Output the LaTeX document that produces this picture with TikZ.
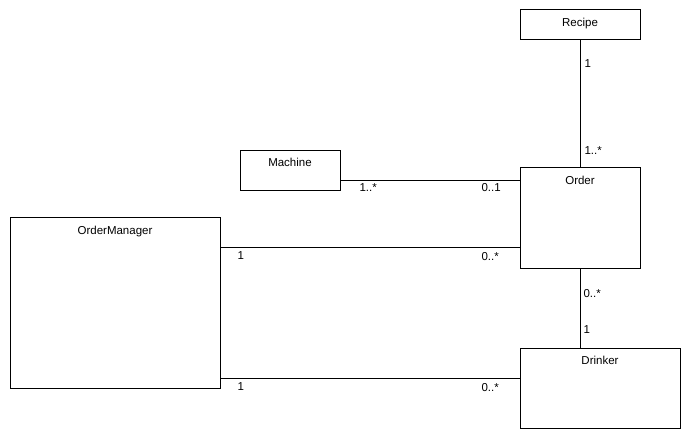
\documentclass[tikz,border=0pt]{standalone}
\usepackage{fontspec}
\setmainfont{Liberation Sans}
\usetikzlibrary{calc}

\begin{document}
\begin{tikzpicture}[x=1pt,y=-1pt,line width=1pt,font=\fontsize{11.5}{13}\selectfont,
  classbox/.style={draw=black,rectangle,inner sep=0pt},
  title/.style={anchor=base,inner sep=0pt,yshift=-17pt},
  mult/.style={anchor=base west,inner sep=0pt}]
\useasboundingbox (0,0) rectangle (690,438);
%% classes
\node[classbox,minimum width=120pt,minimum height=30pt,label={[title]north:Recipe}] (recipe) at (580,25) {};
\node[classbox,minimum width=100pt,minimum height=40pt,label={[title,yshift=1pt]north:Machine}] (machine) at (290,171) {};
\node[classbox,minimum width=120pt,minimum height=100pt,label={[title]north:Order}] (order) at (580,218) {};
\node[classbox,minimum width=210pt,minimum height=170pt,label={[title]north:OrderManager}] (manager) at (115,303) {};
\node[classbox,minimum width=160pt,minimum height=80pt,label={[title]north:Drinker}] (drinker) at (600,388) {};
%% levels of the horizontal links
\coordinate (lvlmachine) at (0,181);
\coordinate (lvlorder) at (0,248);
\coordinate (lvldrinker) at (0,378);
%% associations
\draw (recipe.south) -- (order.north);
\draw (machine.east |- lvlmachine) -- (order.west |- lvlmachine);
\draw (manager.east |- lvlorder) -- (order.west |- lvlorder);
\draw (order.south) -- (order.south |- drinker.north);
\draw (manager.east |- lvldrinker) -- (drinker.west |- lvldrinker);
%% multiplicities
\foreach \x/\y/\txt [count=\i] in {584/68/1, 584/155/1..*, 359/192/1..*, 481/192/0..1,
    237/259/1, 481/260/0..*, 583/297/0..*, 583/333/1, 237/390/1, 481/391/0..*}
  \node[mult] (mult\i) at (\x,\y) {\txt};
\end{tikzpicture}
\end{document}
